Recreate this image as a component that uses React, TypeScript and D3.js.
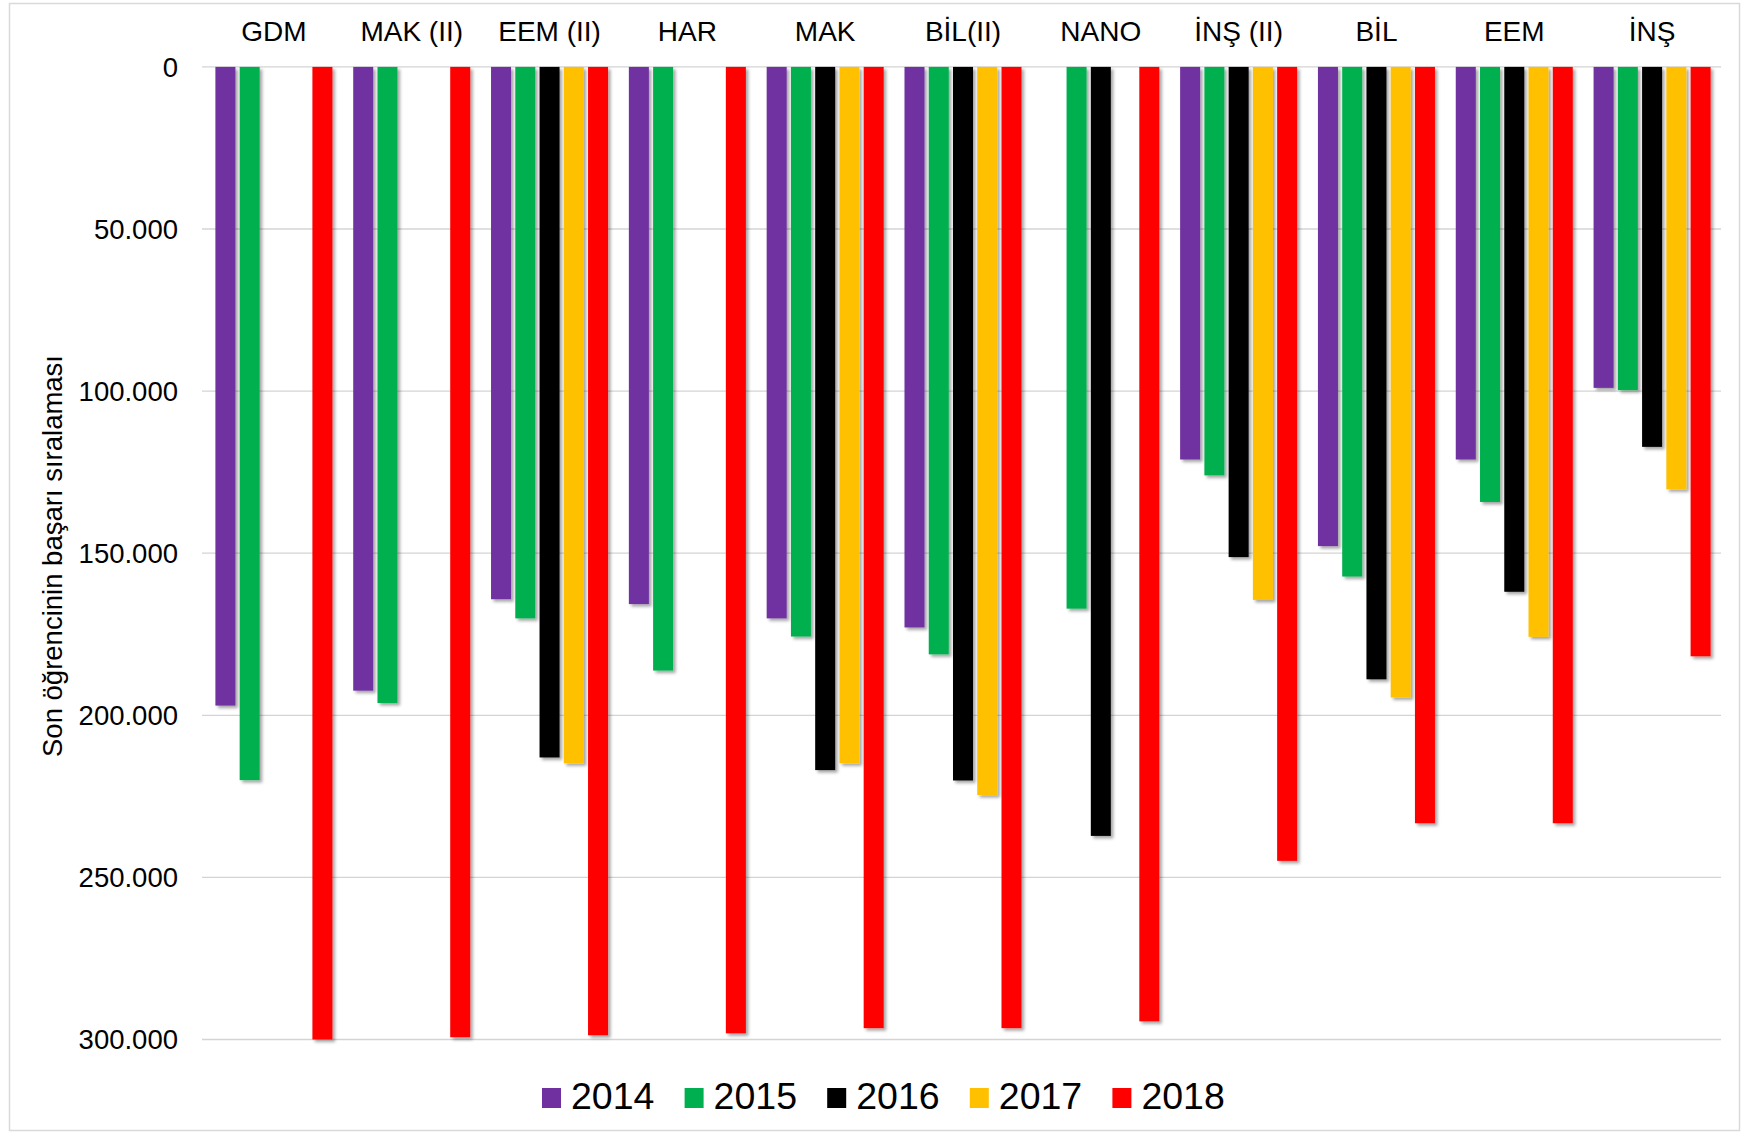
import React from "react";
import * as d3 from "d3";

const categories = ["GDM", "MAK (II)", "EEM (II)", "HAR", "MAK", "BİL(II)", "NANO", "İNŞ (II)", "BİL", "EEM", "İNŞ"];
const years = ["2014", "2015", "2016", "2017", "2018"];
const colors = ["#7030A0", "#00B050", "#000000", "#FFC000", "#FF0000"];

const v2014 = [197000, 192400, 164200, 165700, 170100, 172900, null, 121100, 147800, 121100, 99000];
const v2015 = [220000, 196200, 170100, 186200, 175700, 181200, 167100, 126000, 157200, 134200, 99700];
const v2016 = [null, null, 213000, null, 216900, 220100, 237200, 151200, 188900, 161900, 117200];
const v2017 = [null, null, 214800, null, 214800, 224600, null, 164400, 194500, 175800, 130300];
const v2018 = [300000, 299300, 298700, 298100, 296500, 296500, 294400, 244900, 233300, 233300, 181800];
const seriesValues = [v2014, v2015, v2016, v2017, v2018];

const yTicks = [0, 50000, 100000, 150000, 200000, 250000, 300000];
const yTitle = "Son öğrencinin başarı sıralaması";

const W = 1747;
const H = 1135;
const FONT = "'Liberation Sans', Arial, sans-serif";

const trLocale = d3.formatLocale({ decimal: ",", thousands: ".", grouping: [3], currency: ["", ""] });
const fmt = trLocale.format(",d");

export default function App() {
  const plotLeft = 205;
  const plotRight = 1721;
  const yTop = 66.9;
  const yBottom = 1039.5;

  const x0 = d3.scaleBand<string>().domain(categories).range([plotLeft, plotRight]).paddingInner(0).paddingOuter(0);
  const gw = x0.bandwidth();
  const x1 = d3
    .scaleBand<string>()
    .domain(years)
    .range([gw * 0.0755, gw * (1 - 0.0755)])
    .paddingInner(0.175)
    .paddingOuter(0);
  const y = d3.scaleLinear().domain([0, 300000]).range([yTop, yBottom]);

  const tickFs = 27.5;
  const legendFs = 37.5;
  const legendStep = 142.6;
  const legendX0 = 542;

  return (
    <svg
      width={W}
      height={H}
      style={{ position: "absolute", left: 0, top: 0, background: "#fff" }}
      fontFamily={FONT}
    >
      <defs>
        <filter id="shadow" x="-30%" y="-5%" width="160%" height="110%">
          <feDropShadow dx="2.5" dy="2.5" stdDeviation="1.5" floodColor="#000" floodOpacity="0.35" />
        </filter>
      </defs>
      <rect x={0} y={0} width={W} height={H} fill="#fff" />
      <rect x={9.5} y={3.5} width={1730} height={1127} fill="none" stroke="#d9d9d9" strokeWidth={1.5} />

      {/* gridlines */}
      {yTicks.map((t) => (
        <line
          key={"g" + t}
          x1={plotLeft - 3}
          x2={plotRight}
          y1={y(t)}
          y2={y(t)}
          stroke="#d4d4d4"
          strokeWidth={1.3}
        />
      ))}

      {/* y tick labels */}
      {yTicks.map((t) => (
        <text
          key={"t" + t}
          x={178}
          y={y(t) + tickFs * 0.358}
          textAnchor="end"
          fontSize={tickFs}
          fill="#000"
        >
          {fmt(t)}
        </text>
      ))}

      {/* y title */}
      <text
        transform={`translate(${62}, ${556}) rotate(-90)`}
        textAnchor="middle"
        fontSize={27.5}
        fill="#000"
      >
        {yTitle}
      </text>

      {/* category labels */}
      {categories.map((c) => (
        <text key={"c" + c} x={x0(c)! + gw / 2} y={41} textAnchor="middle" fontSize={28} fill="#000">
          {c}
        </text>
      ))}

      {/* bars */}
      {categories.map((c, ci) => (
        <g key={"grp" + c} transform={`translate(${x0(c)},0)`}>
          {years.map((yr, si) => {
            const v = seriesValues[si][ci];
            if (v == null) return null;
            return (
              <rect
                key={yr}
                x={x1(yr)}
                y={y(0)}
                width={x1.bandwidth()}
                height={y(v) - y(0)}
                fill={colors[si]}
                filter="url(#shadow)"
              />
            );
          })}
        </g>
      ))}

      {/* legend */}
      {years.map((yr, i) => (
        <g key={"l" + yr} transform={`translate(${legendX0 + i * legendStep}, 0)`}>
          <rect x={0} y={1088} width={19} height={20} fill={colors[i]} />
          <text x={29} y={1109} fontSize={legendFs} fill="#000">
            {yr}
          </text>
        </g>
      ))}
    </svg>
  );
}
